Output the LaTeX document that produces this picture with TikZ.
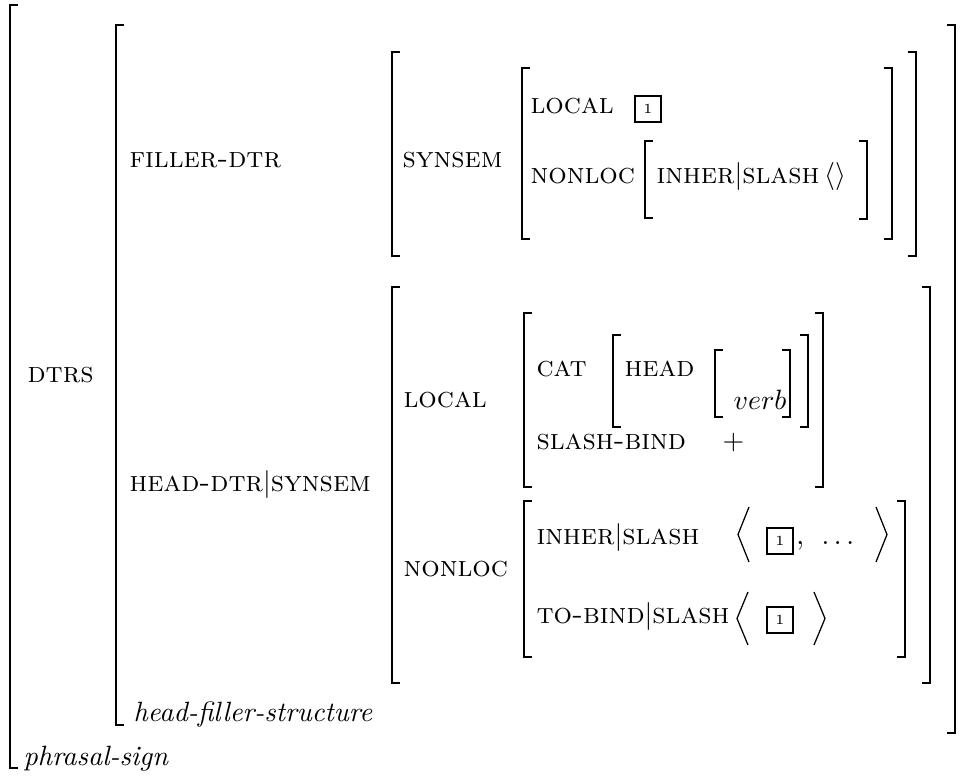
\documentclass[tikz,border=0pt]{standalone}
\usepackage{amsmath}
\newcommand\avmlb[3]{\draw[brk] ({#1+8},#2) -- (#1,#2) -- (#1,#3) -- ({#1+8},#3);}
\newcommand\avmrb[3]{\draw[brk] ({#1-8},#2) -- (#1,#2) -- (#1,#3) -- ({#1-8},#3);}
\newcommand\avmla[3]{\draw[ang] ({#1+11},#2) -- (#1,{(#2+#3)/2}) -- ({#1+11},#3);}
\newcommand\avmra[3]{\draw[ang] ({#1-11},#2) -- (#1,{(#2+#3)/2}) -- ({#1-11},#3);}
\begin{document}
\begin{tikzpicture}[x=0.3584pt,y=-0.3584pt,
  brk/.style={line width=0.95pt, line join=miter},
  ang/.style={line width=0.45pt},
  av/.style={anchor=base west, inner sep=0pt, font=\fontsize{10.4}{12}\selectfont\scshape},
  ty/.style={anchor=base west, inner sep=0pt, font=\itshape},
  tag/.style={draw, line width=0.95pt, minimum size=9.4pt, inner sep=0pt, font=\tiny}]
\useasboundingbox (0,0) rectangle (964,778);
% brackets
\avmlb{10}{5}{768}
\avmlb{116}{25}{725}
\avmrb{955}{25}{733}
\avmlb{392}{52}{256}
\avmrb{916}{52}{256}
\avmlb{522}{68}{239}
\avmrb{892}{68}{239}
\avmlb{645}{141}{218}
\avmrb{867}{141}{219}
\avmlb{392}{287}{683}
\avmrb{930}{287}{683}
\avmlb{524}{313}{487}
\avmrb{823}{313}{487}
\avmlb{613}{335}{427}
\avmrb{808}{335}{427}
\avmlb{715}{350}{417}
\avmrb{790}{350}{417}
\avmlb{524}{501}{657}
\avmrb{905}{501}{657}
% texts
\node[av] (dtrs) at (27,383) {dtrs};
\node[av] (fdtr) at (129,168) {filler-dtr};
\node[av] (hdtr) at (129,492) {head-dtr$|$synsem};
\node[av] (syn1) at (402,168) {synsem};
\node[av] (loc1) at (530,114) {local};
\node[tag] (t1) at (648,109) {1};
\node[av] (nl1) at (530,184) {nonloc};
\node[av] (is1) at (656,184) {inher$|$slash\,$\langle\rangle$};
\node[av] (loc2) at (403,408) {local};
\node[av] (cat) at (536,377) {cat};
\node[av] (head) at (624,377) {head};
\node[ty] (verb) at (733,410) {$verb$};
\node[av] (sb) at (536,450) {slash-bind};
\node[av] (plus) at (722,450) {$+$};
\node[av] (nl2) at (403,577) {nonloc};
\node[av] (is2) at (536,545) {inher$|$slash};
\avmla{738}{507}{562}
\node[tag] (t2) at (780,541) {1};
\node[av] (comma) at (795,545) {,};
\node[av] (dots) at (821,545) {$\ldots$};
\avmra{887}{507}{562}
\node[av] (tb) at (536,624) {to-bind$|$slash};
\avmla{737}{592}{645}
\node[tag] (t3) at (780,620) {1};
\avmra{825}{592}{645}
\node[ty] (hfs) at (133,722) {head-filler-structure};
\node[ty] (ps) at (23,766) {phrasal-sign};
\end{tikzpicture}
\end{document}
